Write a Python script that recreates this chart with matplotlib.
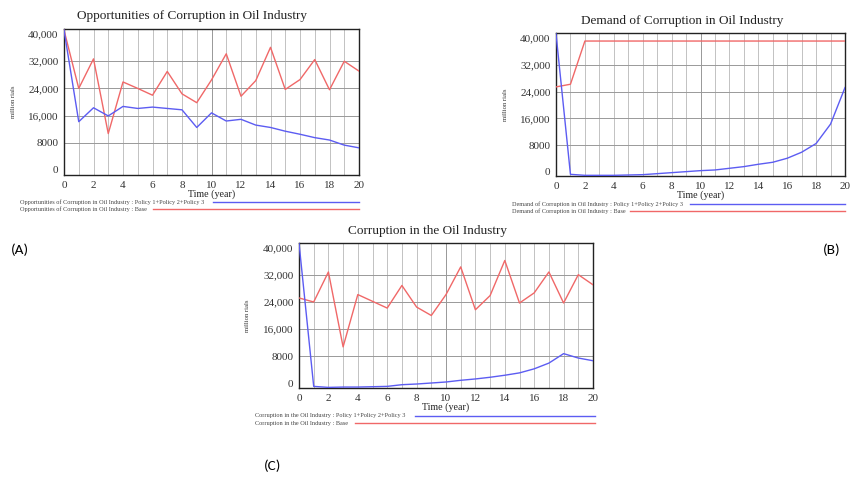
import matplotlib
matplotlib.use("Agg")
import matplotlib.pyplot as plt
from matplotlib.lines import Line2D

years = list(range(21))

# Panel A: Opportunities of Corruption in Oil Industry
a_policy = [41200, 14200, 18300, 15900, 18700, 18100, 18500, 18100, 17700, 12500, 16800,
            14400, 14900, 13200, 12500, 11400, 10500, 9500, 8800, 7300, 6500]
a_base = [41200, 24000, 32700, 10700, 25900, 24000, 22000, 29000, 22400, 19800, 26500,
          34200, 21700, 26300, 36100, 23700, 26600, 32500, 23600, 32000, 29100]

# Panel B: Demand of Corruption in Oil Industry
b_policy = [41300, -700, -1000, -1000, -1000, -900, -800, -500, -200, 100, 400,
            600, 1100, 1600, 2300, 2900, 4100, 5900, 8500, 14300, 25200]
b_base = [25400, 26200, 39100, 39100, 39100, 39100, 39100, 39100, 39100, 39100, 39100,
          39100, 39100, 39100, 39100, 39100, 39100, 39100, 39100, 39100, 39100]

# Panel C: Corruption in the Oil Industry
c_policy = [41500, -1000, -1300, -1200, -1200, -1100, -1000, -500, -300, 0, 300,
            800, 1200, 1700, 2300, 3000, 4200, 5900, 8700, 7400, 6600]
c_base = [25200, 24000, 32900, 10700, 26200, 24200, 22200, 28900, 22500, 20000, 26200,
          34400, 21700, 25900, 36300, 23700, 26700, 32900, 23700, 32100, 29100]

y_ticks = [0, 8000, 16000, 24000, 32000, 40000]
y_tick_labels = ["0", "8000", "16,000", "24,000", "32,000", "40,000"]
x_ticks = list(range(0, 21, 2))

titles = ["Opportunities of Corruption in Oil Industry",
          "Demand of Corruption in Oil Industry",
          "Corruption in the Oil Industry"]
legend_policy = ["Opportunities of Corruption in Oil Industry : Policy 1+Policy 2+Policy 3",
                 "Demand of Corruption in Oil Industry : Policy 1+Policy 2+Policy 3",
                 "Corruption in the Oil Industry : Policy 1+Policy 2+Policy 3"]
legend_base = ["Opportunities of Corruption in Oil Industry : Base",
               "Demand of Corruption in Oil Industry : Base",
               "Corruption in the Oil Industry : Base"]
panel_labels = ["(A)", "(B)", "(C)"]

BLUE = "#5c5cf2"
RED = "#f06868"
W, H = 850, 479

fig = plt.figure(figsize=(8.5, 4.79), dpi=100)
fig.patch.set_facecolor("white")

# axes boxes in pixels: left, right, top, bottom
boxes = [(64, 359, 29, 175), (556, 845, 33, 176), (299, 593, 243, 388)]
ylims = [(-1500, 41500), (-1200, 41500), (-1480, 41480)]
data = [(a_policy, a_base), (b_policy, b_base), (c_policy, c_base)]
# text x, policy y, base y, policy line start, line end, base line start
legend_pos = [(20, 202, 209, 213, 359, 153),
              (512, 204, 211, 690, 845, 630),
              (255, 416, 423, 415, 595, 355)]
label_pos = [(20, 250), (832, 250), (273, 466)]
title_y = [16, 21, 231]
title_x = [192, 682, 427]
ylabel_x = [16, 508, 250]

serif = ["Liberation Serif", "DejaVu Serif"]

for i in range(3):
    l, r, t, b = boxes[i]
    ax = fig.add_axes([l / W, 1 - b / H, (r - l) / W, (b - t) / H])
    pol, base = data[i]
    ax.plot(years, base, color=RED, lw=1.0, zorder=3)
    ax.plot(years, pol, color=BLUE, lw=1.0, zorder=4)
    ax.set_xlim(0, 20)
    ax.set_ylim(*ylims[i])
    for xv in range(1, 20):
        ax.axvline(xv, color="#b8b8b8" if xv != 10 else "#888888", lw=0.6, zorder=1)
    for yv in y_ticks[1:-1]:
        ax.axhline(yv, color="#999999", lw=0.7, zorder=1)
    ax.set_xticks(x_ticks)
    ax.set_yticks(y_ticks)
    ax.set_yticklabels(y_tick_labels)
    ax.tick_params(length=0, labelsize=8, pad=4)
    for lab in ax.get_xticklabels() + ax.get_yticklabels():
        lab.set_family(serif)
        lab.set_color("#333333")
    for s in ax.spines.values():
        s.set_color("#222222")
        s.set_linewidth(1.0)
    fig.text(title_x[i] / W, 1 - title_y[i] / H, titles[i], family=serif, fontsize=9.5,
             color="#222222", ha="center", va="center")
    ax.set_xlabel("Time (year)", family=serif, fontsize=7.2, color="#222222", labelpad=0)
    ax.set_ylabel("million rials", family=serif, fontsize=4.8, color="#333333")
    ax.yaxis.set_label_coords((ylabel_x[i] - l) / (r - l), 0.5)

    tx, y1, y2, lx0, lx1, bx0 = legend_pos[i]
    fig.text(tx / W, 1 - y1 / H, legend_policy[i], fontsize=4.5, family=serif,
             va="center", ha="left", color="#444444")
    fig.text(tx / W, 1 - y2 / H, legend_base[i], fontsize=4.5, family=serif,
             va="center", ha="left", color="#444444")
    fig.add_artist(Line2D([lx0 / W, lx1 / W], [1 - y1 / H, 1 - y1 / H], color=BLUE, lw=1.0,
                          transform=fig.transFigure))
    fig.add_artist(Line2D([bx0 / W, lx1 / W], [1 - y2 / H, 1 - y2 / H], color=RED, lw=1.0,
                          transform=fig.transFigure))

    px, py = label_pos[i]
    fig.text(px / W, 1 - py / H, panel_labels[i], fontsize=11,
             family=["Carlito", "Liberation Sans", "DejaVu Sans"],
             ha="center", va="center", color="black")

fig.savefig("out.png", dpi=100)
